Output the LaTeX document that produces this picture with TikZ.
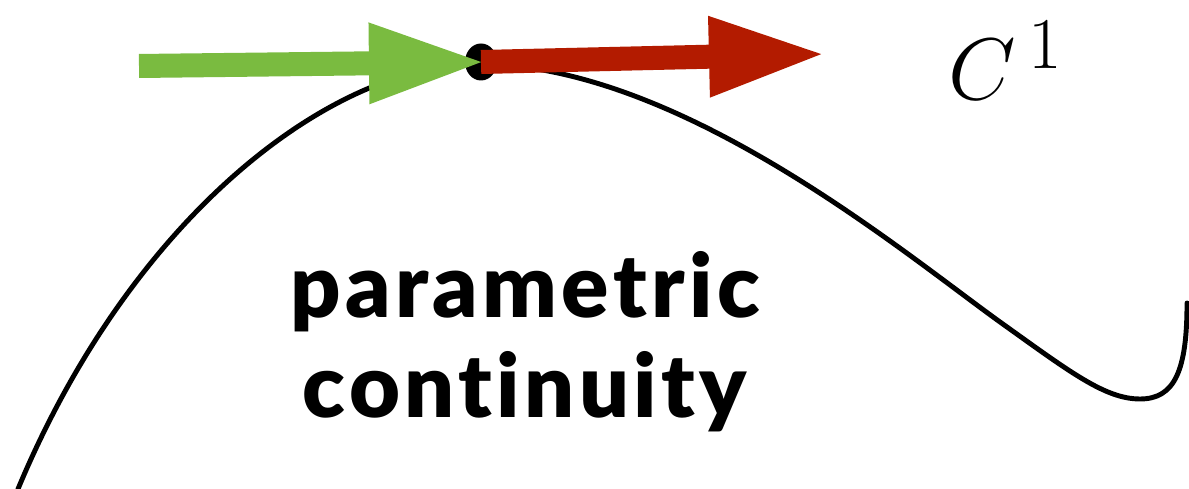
\documentclass[tikz,border=0pt]{standalone}
\usepackage{fontspec}
\usetikzlibrary{arrows.meta,shapes.geometric}
\newfontfamily\heavyfont{Lato Black}[Ligatures=NoCommon, RawFeature=-liga, LetterSpace=5]

\definecolor{tangentgreen}{RGB}{122,187,64}
\definecolor{tangentred}{RGB}{179,27,0}

\tikzset{
  curve/.style={line width=1.4pt, line cap=round},
  joint/.style={ellipse, fill=black, inner sep=0pt, minimum width=0.32cm, minimum height=0.37cm},
  tangent/.style={line width=0.24cm, -{Triangle[length=1.17cm, width=0.74cm]}},
  caption/.style={align=center, font=\heavyfont\fontsize{25}{28.45}\selectfont},
}

\begin{document}
\begin{tikzpicture}[x=0.01cm, y=-0.01cm]
  \useasboundingbox (0,0) rectangle (1189,489);

  % the curve
  \draw[curve] (18,489) .. controls (130,220) and (330,62) .. (481,64)
    .. controls (680,66) and (900,250) .. (1000,322)
    .. controls (1070,372) and (1105,399) .. (1140,399)
    .. controls (1175,399) and (1187,370) .. (1187,303);

  \node[joint] (knot) at (481,62) {};
  \coordinate (intail) at (139,66);
  \coordinate (outhead) at (826,54);

  % tangents on both sides
  \draw[tangent, tangentgreen] (intail) -- ([xshift=0.05cm]knot.center);
  \draw[tangent, tangentred] (knot.center) -- (outhead);

  \node[anchor=base west, inner sep=0pt, font=\fontsize{28}{32}\selectfont] (order) at (948,100) {$C^{\,1}$};
  \node[caption] (label) at (525,342) {parametric\\continuity};
\end{tikzpicture}
\end{document}
